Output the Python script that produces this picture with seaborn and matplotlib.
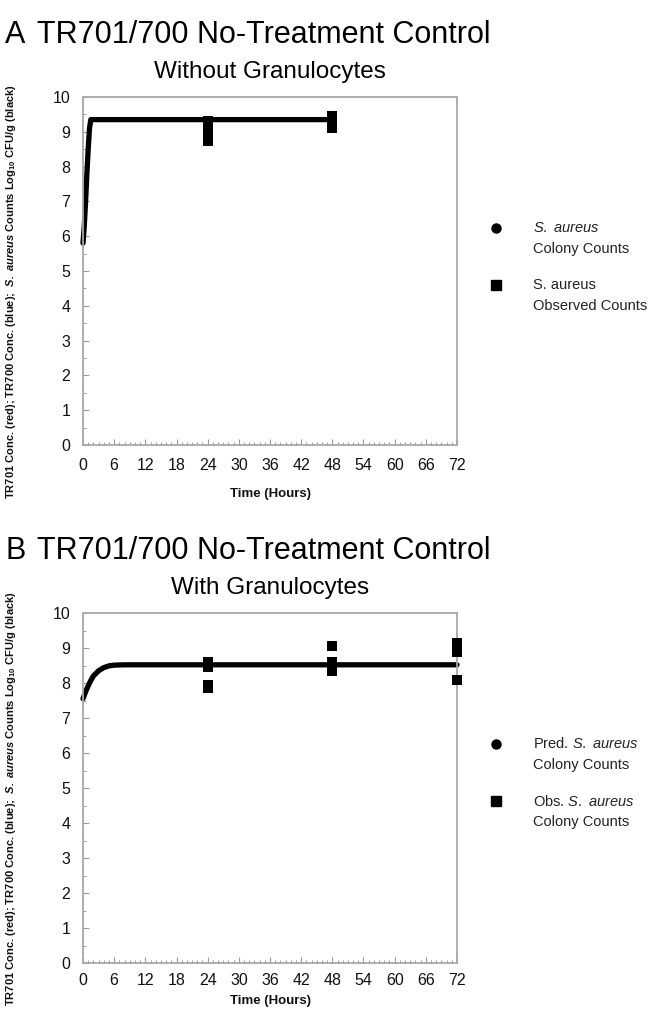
import numpy as np
import pandas as pd
import matplotlib
matplotlib.use("Agg")
import matplotlib.pyplot as plt
from matplotlib.lines import Line2D
from matplotlib.ticker import MultipleLocator
import seaborn as sns

# panel A - without granulocytes
pred_t_a = [0, 0.25, 0.5, 0.75, 1.0, 1.25, 1.5, 2, 24, 48]
pred_y_a = [5.8, 6.3, 7.0, 7.8, 8.5, 9.1, 9.35, 9.35, 9.35, 9.35]
obs_t_a = [24, 24, 24, 24, 48, 48, 48, 48]
obs_y_a = [9.3, 9.15, 8.95, 8.75, 9.45, 9.35, 9.2, 9.1]

# panel B - with granulocytes
pred_t_b = [0, 0.5, 1, 1.5, 2, 3, 4, 5, 6, 8, 72]
pred_y_b = [7.55, 7.75, 7.92, 8.07, 8.2, 8.35, 8.44, 8.49, 8.51, 8.52, 8.52]
obs_t_b = [24, 24, 24, 24, 48, 48, 48, 48, 72, 72, 72, 72]
obs_y_b = [8.6, 8.45, 7.95, 7.85, 9.07, 8.6, 8.45, 8.35, 9.15, 9.0, 8.9, 8.1]

x_ticks = list(range(0, 73, 6))
y_ticks = list(range(0, 11))

main_title = "TR701/700 No-Treatment Control"
sub_a = "Without Granulocytes"
sub_b = "With Granulocytes"
ylab = (r"TR701 Conc. (red); TR700 Conc. (blue);  $\mathbfit{S.\ aureus}$ "
        r"Counts Log$_{\mathbf{10}}$ CFU/g (black)")
legend_a = [(r"$\it{S.\ aureus}$", "Colony Counts"), ("S. aureus", "Observed Counts")]
legend_b = [(r"Pred. $\it{S.\ aureus}$", "Colony Counts"),
            (r"Obs. $\it{S.\ aureus}$", "Colony Counts")]

sns.set_theme(style="white")
plt.rcParams["font.family"] = ["Liberation Sans", "DejaVu Sans"]
plt.rcParams["mathtext.fontset"] = "custom"
plt.rcParams["mathtext.rm"] = "Liberation Sans"
plt.rcParams["mathtext.it"] = "Liberation Sans:italic"
plt.rcParams["mathtext.bf"] = "Liberation Sans:bold"
plt.rcParams["mathtext.bfit"] = "Liberation Sans:italic:bold"
plt.rcParams["text.color"] = "black"

fig = plt.figure(figsize=(6.66, 10.18), dpi=100)
W, H = 666, 1018


def fy(px):
    return 1 - px / H


def panel(letter, top_px, bottom_px, subtitle, pt, py, ot, oy, labels,
          xlab_pad, ylab_y, tick_pad):
    ax = fig.add_axes([83 / W, fy(bottom_px), 374 / W, (bottom_px - top_px) / H])
    pred = pd.DataFrame({"t": pt, "y": py})
    obs = pd.DataFrame({"t": ot, "y": oy})
    sns.lineplot(data=pred, x="t", y="y", ax=ax, color="black", lw=3.8,
                 solid_capstyle="round", clip_on=False)
    sns.scatterplot(data=obs, x="t", y="y", ax=ax, color="black", marker="s",
                    s=48, linewidth=0, clip_on=False, zorder=5)
    ax.set_xlim(0, 72)
    ax.set_ylim(0, 10)
    ax.set_xticks(x_ticks)
    ax.set_yticks(y_ticks)
    ax.xaxis.set_minor_locator(MultipleLocator(1))
    ax.yaxis.set_minor_locator(MultipleLocator(0.5))
    ax.tick_params(which="major", direction="in", length=4, width=0.8,
                   color="#999999", labelsize=11.5, labelcolor="#111111", pad=9)
    ax.tick_params(axis="x", which="major", pad=tick_pad)
    ax.tick_params(which="minor", direction="in", length=2.5, width=0.7,
                   color="#999999")
    ax.tick_params(axis="x", which="both", bottom=True)
    ax.tick_params(axis="y", which="both", left=True)
    for sp in ax.spines.values():
        sp.set_color("#a8a8a8")
        sp.set_linewidth(1.3)
    ax.set_xlabel("Time (Hours)", fontsize=9.5, fontweight="bold", labelpad=xlab_pad,
                  color="#111111")
    ax.set_ylabel(ylab, fontsize=8.0, fontweight="bold", color="#111111")
    ax.yaxis.set_label_coords(-0.174, ylab_y)
    ax.set_title(subtitle, fontsize=17.5, pad=14, color="black")

    base = top_px - 54
    fig.text(5 / W, fy(base), letter, fontsize=22, va="baseline")
    fig.text(37 / W, fy(base), main_title, fontsize=22, va="baseline")

    # legend drawn beside the axes
    markers = ["o", "s"]
    for i, (l1, l2) in enumerate(labels):
        y1 = top_px + 131 + 57 * i
        fig.add_artist(Line2D([496 / W], [fy(y1)], marker=markers[i], color="black",
                              ls="none", markersize=6.5, transform=fig.transFigure))
        fig.text(533 / W, fy(y1), l1, fontsize=10.5, va="center", color="#222222")
        fig.text(533 / W, fy(y1 + 21), l2, fontsize=10.5, va="center", color="#222222")
    return ax


panel("A", 97, 445, sub_a, pred_t_a, pred_y_a, obs_t_a, obs_y_a, legend_a,
      11, 0.44, 9)
panel("B", 613, 963, sub_b, pred_t_b, pred_y_b, obs_t_b, obs_y_b, legend_b,
      5, 0.47, 7)

fig.savefig("out.png", dpi=100)
